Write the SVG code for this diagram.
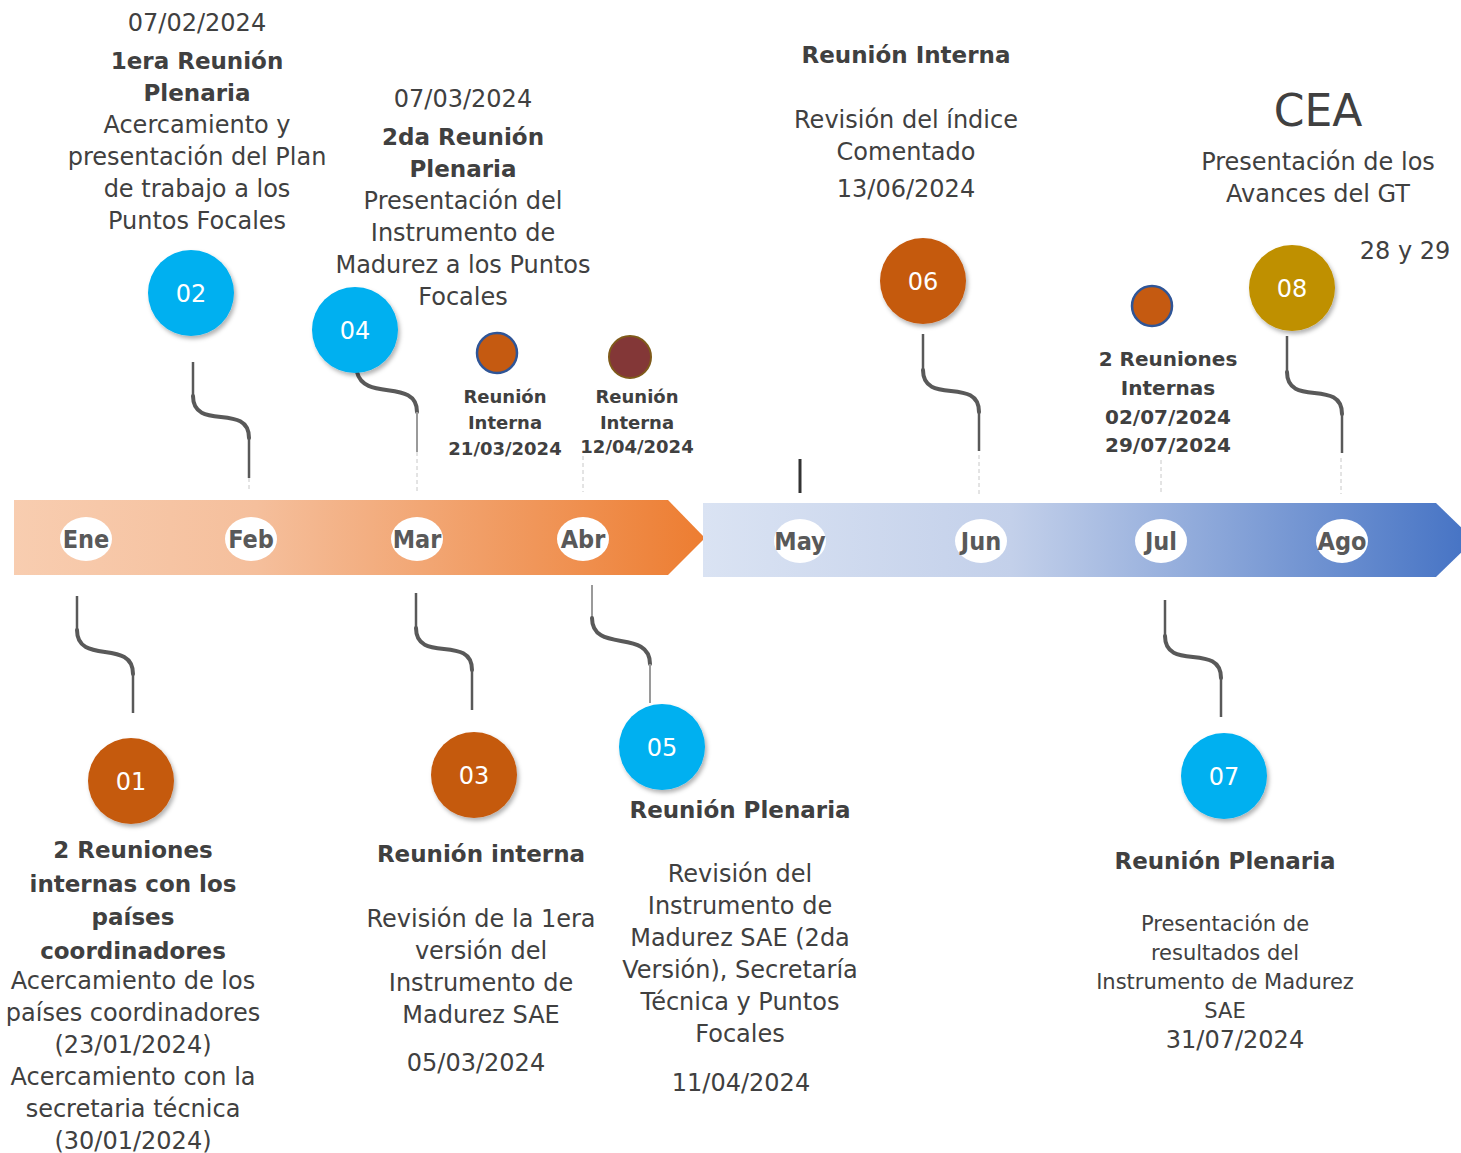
<svg xmlns="http://www.w3.org/2000/svg" width="1461" height="1153" viewBox="0 0 1461 1153">
<defs>
<linearGradient id="gOr" x1="0" y1="0" x2="1" y2="0">
<stop offset="0" stop-color="#f8cdb0"/>
<stop offset="0.35" stop-color="#f5bf9c"/>
<stop offset="1" stop-color="#ed7d31"/>
</linearGradient>
<linearGradient id="gBl" x1="0" y1="0" x2="1" y2="0">
<stop offset="0" stop-color="#dae3f3"/>
<stop offset="0.4" stop-color="#c3d0ea"/>
<stop offset="1" stop-color="#4472c4"/>
</linearGradient>
<filter id="sh" x="-30%" y="-30%" width="160%" height="160%">
<feDropShadow dx="2" dy="3" stdDeviation="2" flood-color="#000" flood-opacity="0.3"/>
</filter>
</defs>
<style>
text{font-family:"DejaVu Sans","Liberation Sans",sans-serif;fill:#404040;text-anchor:middle}
.r{font-size:24px}
.b{font-size:23px;font-weight:bold}
.sb{font-size:18px;font-weight:bold}
.mb{font-size:20px;font-weight:bold}
.s{font-size:21px}
.num{font-size:24px;fill:#fff}
.mon{font-family:"DejaVu Sans Condensed","DejaVu Sans",sans-serif;font-stretch:condensed;font-size:25px;font-weight:bold;fill:#595959}
.cv{fill:none;stroke:#595959;stroke-width:4;stroke-linecap:round}
.ln{stroke:#595959;stroke-width:2.5}
.lt{stroke:#9a9a9a;stroke-width:2}
.ds{stroke:#c8c8c8;stroke-width:1;stroke-dasharray:4 3}
.blue{fill:#00b0f0}
.org{fill:#c55a11}
.gold{fill:#bf9000}
</style>

<g id="timeline">
<polygon points="14,500 668,500 705,538 668,575 14,575" fill="url(#gOr)"/>
<polygon points="703,503 1436,503 1474,540 1436,577 703,577" fill="url(#gBl)"/>
<g id="months">
<ellipse cx="86" cy="539" rx="26" ry="22" fill="#fff"/><text class="mon" x="86" y="548">Ene</text>
<ellipse cx="251" cy="539" rx="26" ry="22" fill="#fff"/><text class="mon" x="251" y="548">Feb</text>
<ellipse cx="417" cy="539" rx="26" ry="22" fill="#fff"/><text class="mon" x="417" y="548">Mar</text>
<ellipse cx="583" cy="539" rx="26" ry="22" fill="#fff"/><text class="mon" x="583" y="548">Abr</text>
<ellipse cx="800" cy="541" rx="26" ry="22" fill="#fff"/><text class="mon" x="800" y="550">May</text>
<ellipse cx="981" cy="541" rx="26" ry="22" fill="#fff"/><text class="mon" x="981" y="550">Jun</text>
<ellipse cx="1161" cy="541" rx="26" ry="22" fill="#fff"/><text class="mon" x="1161" y="550">Jul</text>
<ellipse cx="1342" cy="541" rx="26" ry="22" fill="#fff"/><text class="mon" x="1342" y="550">Ago</text>
</g>
</g>

<g id="connectors">
<line class="ln" x1="193" y1="362" x2="193" y2="396"/>
<path class="cv" d="M193,396 C193,432 249,402 249,438"/>
<line class="ln" x1="249" y1="438" x2="249" y2="478"/>
<line class="ds" x1="249" y1="478" x2="249" y2="492"/>
<path class="cv" d="M357,372 C364,402 417,378 417,412"/>
<line class="lt" x1="417" y1="412" x2="417" y2="452"/>
<line class="ds" x1="417" y1="452" x2="417" y2="492"/>
<line class="ds" x1="583" y1="456" x2="583" y2="492"/>
<line class="ds" x1="1161" y1="460" x2="1161" y2="494"/>
<line x1="800" y1="459" x2="800" y2="493" stroke="#333" stroke-width="3"/>
<line class="ln" x1="923" y1="334" x2="923" y2="370"/>
<path class="cv" d="M923,370 C923,406 979,376 979,412"/>
<line class="ln" x1="979" y1="412" x2="979" y2="451"/>
<line class="ds" x1="979" y1="455" x2="979" y2="494"/>
<line class="ln" x1="1287" y1="336" x2="1287" y2="372"/>
<path class="cv" d="M1287,372 C1287,408 1342,378 1342,414"/>
<line class="ln" x1="1342" y1="414" x2="1342" y2="453"/>
<line class="ds" x1="1341" y1="458" x2="1341" y2="494"/>
<line class="ln" x1="77" y1="596" x2="77" y2="630"/>
<path class="cv" d="M77,630 C77,666 133,638 133,674"/>
<line class="ln" x1="133" y1="674" x2="133" y2="713"/>
<line class="ln" x1="416" y1="593" x2="416" y2="628"/>
<path class="cv" d="M416,628 C416,664 472,634 472,670"/>
<line class="ln" x1="472" y1="670" x2="472" y2="710"/>
<line class="lt" x1="592" y1="585" x2="592" y2="618"/>
<path class="cv" d="M592,618 C592,654 650,628 650,664"/>
<line class="lt" x1="650" y1="664" x2="650" y2="703"/>
<line class="ln" x1="1165" y1="600" x2="1165" y2="636"/>
<path class="cv" d="M1165,636 C1165,672 1221,642 1221,678"/>
<line class="ln" x1="1221" y1="678" x2="1221" y2="717"/>
</g>

<g id="n01"><circle class="org" cx="131" cy="781" r="43" filter="url(#sh)"/><text class="num" x="131" y="790">01</text></g>
<g id="n02"><circle class="blue" cx="191" cy="293" r="43" filter="url(#sh)"/><text class="num" x="191" y="302">02</text></g>
<g id="n03"><circle class="org" cx="474" cy="775" r="43" filter="url(#sh)"/><text class="num" x="474" y="784">03</text></g>
<g id="n04"><circle class="blue" cx="355" cy="330" r="43" filter="url(#sh)"/><text class="num" x="355" y="339">04</text></g>
<g id="n05"><circle class="blue" cx="662" cy="747" r="43" filter="url(#sh)"/><text class="num" x="662" y="756">05</text></g>
<g id="n06"><circle class="org" cx="923" cy="281" r="43" filter="url(#sh)"/><text class="num" x="923" y="290">06</text></g>
<g id="n07"><circle class="blue" cx="1224" cy="776" r="43" filter="url(#sh)"/><text class="num" x="1224" y="785">07</text></g>
<g id="n08"><circle class="gold" cx="1292" cy="288" r="43" filter="url(#sh)"/><text class="num" x="1292" y="297">08</text></g>

<g id="ri1"><circle cx="497" cy="353" r="20" fill="#c55a11" stroke="#2f5597" stroke-width="2.5"/>
<text class="sb" x="505" y="403">Reunión</text><text class="sb" x="505" y="429">Interna</text><text class="sb" x="505" y="455">21/03/2024</text></g>
<g id="ri2"><circle cx="630" cy="357" r="21" fill="#833737" stroke="#7f5a1a" stroke-width="2"/>
<text class="sb" x="637" y="403">Reunión</text><text class="sb" x="637" y="429">Interna</text><text class="sb" x="637" y="453">12/04/2024</text></g>
<g id="ri3"><circle cx="1152" cy="306" r="20" fill="#c55a11" stroke="#2f5597" stroke-width="2.5"/>
<text class="mb" x="1168" y="366">2 Reuniones</text><text class="mb" x="1168" y="395">Internas</text><text class="mb" x="1168" y="424">02/07/2024</text><text class="mb" x="1168" y="452">29/07/2024</text></g>

<g id="t02">
<text class="r" x="197" y="31">07/02/2024</text>
<text class="b" x="197" y="69">1era Reunión</text>
<text class="b" x="197" y="101">Plenaria</text>
<text class="r" x="197" y="133">Acercamiento y</text>
<text class="r" x="197" y="165">presentación del Plan</text>
<text class="r" x="197" y="197">de trabajo a los</text>
<text class="r" x="197" y="229">Puntos Focales</text>
</g>
<g id="t04">
<text class="r" x="463" y="107">07/03/2024</text>
<text class="b" x="463" y="145">2da Reunión</text>
<text class="b" x="463" y="177">Plenaria</text>
<text class="r" x="463" y="209">Presentación del</text>
<text class="r" x="463" y="241">Instrumento de</text>
<text class="r" x="463" y="273">Madurez a los Puntos</text>
<text class="r" x="463" y="305">Focales</text>
</g>
<g id="t06">
<text class="b" x="906" y="63">Reunión Interna</text>
<text class="r" x="906" y="128">Revisión del índice</text>
<text class="r" x="906" y="160">Comentado</text>
<text class="r" x="906" y="197">13/06/2024</text>
</g>
<g id="t08">
<text x="1318" y="126" style="font-size:44px">CEA</text>
<text class="r" x="1318" y="170">Presentación de los</text>
<text class="r" x="1318" y="202">Avances del GT</text>
<text class="r" x="1405" y="259">28 y 29</text>
</g>
<g id="t01">
<text class="b" x="133" y="858">2 Reuniones</text>
<text class="b" x="133" y="892">internas con los</text>
<text class="b" x="133" y="925">países</text>
<text class="b" x="133" y="959">coordinadores</text>
<text class="r" x="133" y="989">Acercamiento de los</text>
<text class="r" x="133" y="1021">países coordinadores</text>
<text class="r" x="133" y="1053">(23/01/2024)</text>
<text class="r" x="133" y="1085">Acercamiento con la</text>
<text class="r" x="133" y="1117">secretaria técnica</text>
<text class="r" x="133" y="1149">(30/01/2024)</text>
</g>
<g id="t03">
<text class="b" x="481" y="862">Reunión interna</text>
<text class="r" x="481" y="927">Revisión de la 1era</text>
<text class="r" x="481" y="959">versión del</text>
<text class="r" x="481" y="991">Instrumento de</text>
<text class="r" x="481" y="1023">Madurez SAE</text>
<text class="r" x="476" y="1071">05/03/2024</text>
</g>
<g id="t05">
<text class="b" x="740" y="818">Reunión Plenaria</text>
<text class="r" x="740" y="882">Revisión del</text>
<text class="r" x="740" y="914">Instrumento de</text>
<text class="r" x="740" y="946">Madurez SAE (2da</text>
<text class="r" x="740" y="978">Versión), Secretaría</text>
<text class="r" x="740" y="1010">Técnica y Puntos</text>
<text class="r" x="740" y="1042">Focales</text>
<text class="r" x="741" y="1091">11/04/2024</text>
</g>
<g id="t07">
<text class="b" x="1225" y="869">Reunión Plenaria</text>
<text class="s" x="1225" y="931">Presentación de</text>
<text class="s" x="1225" y="960">resultados del</text>
<text class="s" x="1225" y="989">Instrumento de Madurez</text>
<text class="s" x="1225" y="1018">SAE</text>
<text class="r" x="1235" y="1048">31/07/2024</text>
</g>
</svg>
